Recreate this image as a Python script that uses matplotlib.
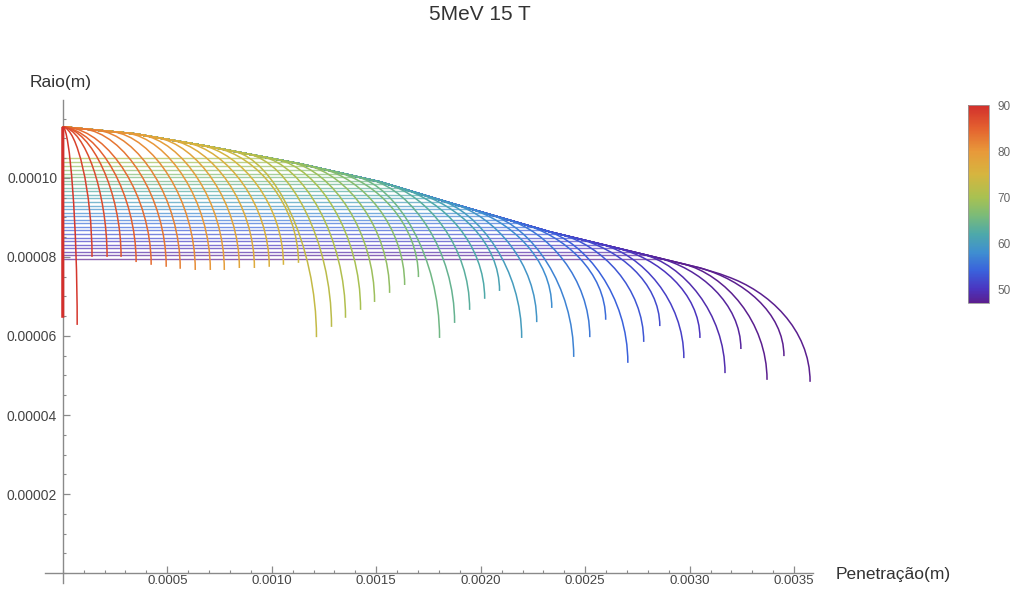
import numpy as np
import matplotlib
matplotlib.use("Agg")
import matplotlib.pyplot as plt
from matplotlib.path import Path
from matplotlib.patches import PathPatch
from matplotlib.colors import LinearSegmentedColormap, Normalize
from matplotlib.ticker import MultipleLocator
import matplotlib.cm as cm

plt.rcParams['font.family'] = ['Liberation Sans', 'DejaVu Sans']

# launch angle of every trajectory (colour)
theta = [90, 89, 88, 87, 86, 85, 84, 83, 82, 81, 80, 79, 78, 77, 76, 75,
         74, 73, 72, 71, 70, 69, 68, 67, 66, 65, 64, 63, 62, 61, 60, 59,
         58, 57, 56, 55, 54, 53, 52, 51, 50, 49, 48, 47, 46, 45]

# end point of every trajectory (x in 1e-3 m, y in 1e-5 m)
x_end = [0.000, 0.069, 0.140, 0.212, 0.279, 0.351, 0.423, 0.495, 0.562, 0.634,
         0.706, 0.773, 0.845, 0.917, 0.988, 1.056, 1.128, 1.214, 1.286, 1.353,
         1.425, 1.492, 1.564, 1.636, 1.702, 1.803, 1.875, 1.947, 2.019, 2.090,
         2.196, 2.268, 2.340, 2.445, 2.522, 2.598, 2.704, 2.780, 2.857, 2.972,
         3.049, 3.169, 3.245, 3.370, 3.451, 3.576]
y_end = [6.46, 6.28, 8.00, 8.00, 8.00, 7.87, 7.80, 7.75, 7.70, 7.67,
         7.67, 7.67, 7.72, 7.72, 7.75, 7.80, 7.85, 5.97, 6.23, 6.46,
         6.66, 6.86, 7.09, 7.29, 7.49, 5.95, 6.33, 6.66, 6.94, 7.14,
         5.95, 6.35, 6.71, 5.47, 5.97, 6.41, 5.32, 5.85, 6.25, 5.44,
         5.95, 5.06, 5.67, 4.89, 5.49, 4.84]

# common upper envelope of the trajectories
env_x = [0.000, 0.346, 0.681, 1.136, 1.518, 1.853, 2.332, 2.571, 2.810, 3.049, 3.145, 3.288]
env_y = [11.291, 11.114, 10.810, 10.354, 9.899, 9.367, 8.633, 8.329, 8.025, 7.722, 7.570, 7.291]

# horizontal lines (radius levels, 1e-5 m)
h_y = [7.95, 8.04, 8.13, 8.22, 8.31, 8.40, 8.49, 8.58, 8.67, 8.76,
       8.85, 8.94, 9.03, 9.12, 9.21, 9.30, 9.39, 9.48, 9.57, 9.66,
       9.75, 9.84, 9.93, 10.02, 10.11, 10.20, 10.30, 10.40, 10.50]

xe_a = np.array(x_end) * 1e-3
ye_a = np.array(y_end) * 1e-5
ex = np.array(env_x) * 1e-3
ey = np.array(env_y) * 1e-5
hy = np.array(h_y) * 1e-5

cmap = LinearSegmentedColormap.from_list('mma_rainbow', [
    (0.000, '#5b1f8f'), (0.070, '#4a35c0'), (0.163, '#3a62dc'),
    (0.256, '#3f8fd0'), (0.349, '#4ea9a9'), (0.442, '#7bbb78'),
    (0.535, '#a9c151'), (0.651, '#d6b53f'), (0.767, '#e8993a'),
    (0.884, '#e4612f'), (1.000, '#d22f2c')])
norm = Normalize(47, 90)

fig = plt.figure(figsize=(10.17, 5.92), dpi=100)
ax = fig.add_axes([45 / 1017, 1 - 583 / 592, 768 / 1017, 483 / 592])

# horizontal lines up to the envelope
x_stop = np.interp(hy, ey[::-1], ex[::-1])
h_val = 47 + (hy - hy[0]) / (hy[-1] - hy[0]) * 23
ax.hlines(hy, 0, x_stop, colors=cmap(norm(h_val)), lw=1.0, alpha=0.7, zorder=1)

# trajectories, purple first so red ends up on top
PEEL = 0.0004
mid = (ex[1:] + ex[:-1]) / 2
slope = np.diff(ey) / np.diff(ex)
for i in reversed(range(len(theta))):
    xe, ye = xe_a[i], ye_a[i]
    xp = max(0.0, xe - PEEL)
    yp = np.interp(xp, ex, ey)
    sl = np.interp(xp, mid, slope)
    dx, dy = xe - xp, yp - ye
    keep = ex < xp
    verts = list(zip(ex[keep], ey[keep])) + [(xp, yp)]
    codes = [Path.MOVETO] + [Path.LINETO] * (len(verts) - 1)
    verts += [(xp + 0.5 * dx, yp + sl * 0.5 * dx), (xe, ye + 0.5 * dy), (xe, ye)]
    codes += [Path.CURVE4] * 3
    lw = 2.2 if theta[i] == 90 else 1.1
    ax.add_patch(PathPatch(Path(verts, codes), fill=False,
                           edgecolor=cmap(norm(theta[i])), lw=lw, zorder=3))

ax.set_xlim(-8.5e-5, 3.59e-3)
ax.set_ylim(-2.5e-6, 1.197e-4)
for s in ['top', 'right']:
    ax.spines[s].set_visible(False)
ax.spines['left'].set_position(('data', 0))
ax.spines['bottom'].set_position(('data', 0))
for s in ['left', 'bottom']:
    ax.spines[s].set_color('#8a8a8a')
    ax.spines[s].set_linewidth(1.0)

ax.set_xticks([0.0005, 0.0010, 0.0015, 0.0020, 0.0025, 0.0030, 0.0035])
ax.set_xticklabels(['0.0005', '0.0010', '0.0015', '0.0020', '0.0025', '0.0030', '0.0035'])
ax.set_yticks([0.00002, 0.00004, 0.00006, 0.00008, 0.00010])
ax.set_yticklabels(['0.00002', '0.00004', '0.00006', '0.00008', '0.00010'])
ax.xaxis.set_minor_locator(MultipleLocator(0.0001))
ax.yaxis.set_minor_locator(MultipleLocator(0.000005))
ax.tick_params(which='both', direction='in', color='#8a8a8a', labelcolor='#444444',
               labelsize=10)
ax.tick_params(which='major', length=5, width=0.9)
ax.tick_params(which='minor', length=2.5, width=0.8)
ax.tick_params(axis='x', pad=1.5, labelsize=9.5)
ax.tick_params(axis='y', pad=4)

fig.text(480 / 1017, 1 - 15 / 592, '5MeV 15 T', ha='center', va='center',
         fontsize=15, color='#333333')
fig.text(61 / 1017, 1 - 82 / 592, 'Raio(m)', ha='center', va='center',
         fontsize=12.5, color='#333333')
fig.text(836 / 1017, 1 - 574 / 592, 'Penetração(m)', ha='left', va='center',
         fontsize=12.5, color='#333333')

cax = fig.add_axes([968 / 1017, 1 - 303 / 592, 21 / 1017, 198 / 592])
cb = fig.colorbar(cm.ScalarMappable(norm=norm, cmap=cmap), cax=cax)
cb.set_ticks([50, 60, 70, 80, 90])
cax.tick_params(length=0, labelsize=8.5, labelcolor='#666666', pad=6)
cb.outline.set_edgecolor('#999999')
cb.outline.set_linewidth(0.6)

fig.savefig('out.png', dpi=100)
